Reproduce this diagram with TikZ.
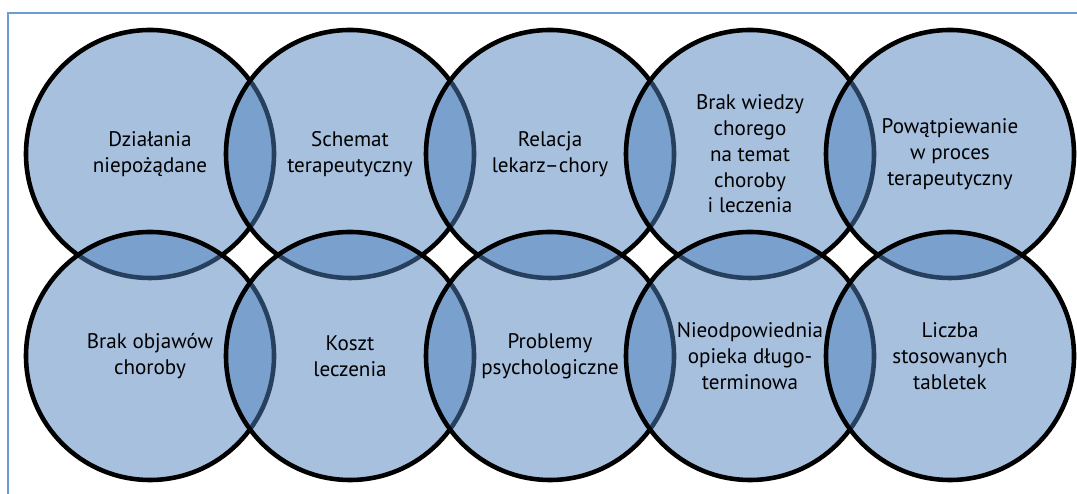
\documentclass[tikz,border=0pt]{standalone}
\usepackage{fontspec}
\setmainfont{PT Sans}
\definecolor{circfill}{HTML}{4F81BD}
\definecolor{frameblue}{HTML}{6C9BD5}
\newcommand{\causecircle}[4]{%
  \node[circle, draw=black, line width=2.6pt, fill=circfill, fill opacity=0.5,
        text opacity=1, minimum size=4.96cm, inner sep=0pt, align=center,
        text=black] (#1) at (#2) {#3\\#4};}

\begin{document}
\begin{tikzpicture}[font=\fontsize{12pt}{14.7pt}\selectfont]
  \useasboundingbox (0,0) rectangle (21.54,9.88);
  \draw[frameblue, line width=0.85pt] (0.16,0) -- (0.16,9.62) -- (21.54,9.62);
  % top row
  \causecircle{c1}{3,6.8}{Działania}{niepożądane}
  \causecircle{c2}{7,6.8}{Schemat}{terapeutyczny}
  \causecircle{c3}{11,6.8}{Relacja}{lekarz–chory}
  \causecircle{c4}{15,6.8}{Brak wiedzy\\chorego\\na temat}{choroby\\i leczenia}
  \causecircle{c5}{19,6.8}{Powątpiewanie\\w proces}{terapeutyczny}
  % bottom row
  \causecircle{c6}{3,2.76}{Brak objawów}{choroby}
  \causecircle{c7}{7,2.76}{Koszt}{leczenia}
  \causecircle{c8}{11,2.76}{Problemy}{psychologiczne}
  \causecircle{c9}{15,2.76}{Nieodpowiednia\\opieka długo-}{terminowa}
  \causecircle{c10}{19,2.76}{Liczba\\stosowanych}{tabletek}
\end{tikzpicture}
\end{document}
